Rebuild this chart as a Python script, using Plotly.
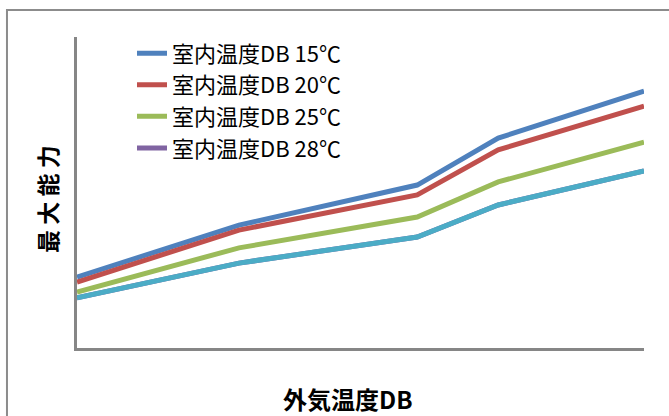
import plotly.graph_objects as go

# Outdoor dry-bulb temperature (°C) sample points
outdoor_temp = [-15, -5, 6, 11, 20]

# Maximum capacity (relative units) per indoor dry-bulb temperature
series_names = ["室内温度DB 15℃", "室内温度DB 20℃", "室内温度DB 25℃", "室内温度DB 28℃"]
cap_15 = [22.8, 39.5, 52.4, 67.5, 82.6]
cap_20 = [21.2, 37.9, 49.2, 63.7, 77.8]
cap_25 = [18.0, 32.2, 42.1, 53.4, 66.2]
cap_28 = [16.1, 27.3, 35.7, 46.0, 56.9]

colors = ["#4F81BD", "#C0504D", "#9BBB59", "#8064A2"]
overlay_color = "#4BACC6"

font_family = "Noto Sans CJK JP, Noto Sans, sans-serif"

fig = go.Figure()
for i, (name, vals) in enumerate(zip(series_names, [cap_15, cap_20, cap_25, cap_28])):
    fig.add_trace(go.Scatter(
        x=outdoor_temp, y=vals, mode="lines", name=name,
        legendgroup=f"g{i}",
        line=dict(color=colors[i], width=5),
    ))

# Fifth series sitting on top of the 28℃ curve, not listed in the legend
fig.add_trace(go.Scatter(
    x=outdoor_temp, y=cap_28, mode="lines", showlegend=False,
    line=dict(color=overlay_color, width=5),
))

fig.update_layout(
    width=669, height=416,
    margin=dict(l=77, r=25, t=37, b=68),
    paper_bgcolor="white", plot_bgcolor="white",
    font=dict(family=font_family, color="black"),
    showlegend=True,
    legend=dict(
        x=0.097, y=1.015, xanchor="left", yanchor="top",
        font=dict(size=22, family=font_family),
        bgcolor="rgba(0,0,0,0)",
        tracegroupgap=0,
    ),
    xaxis=dict(
        range=[-15, 20], showgrid=False, zeroline=False,
        showticklabels=False, ticks="",
        showline=True, linecolor="#868686", linewidth=3,
    ),
    yaxis=dict(
        range=[0, 100], showgrid=False, zeroline=False,
        showticklabels=False, ticks="",
        showline=True, linecolor="#868686", linewidth=3,
    ),
    shapes=[dict(
        type="rect", xref="paper", yref="paper",
        x0=-0.1235, y0=-0.4, x1=1.3, y1=1.087,
        line=dict(color="#8C8C8C", width=2), fillcolor="rgba(0,0,0,0)",
        layer="below",
    )],
    annotations=[
        dict(text="<b>外気温度DB</b>", xref="paper", yref="paper",
             x=(347 - 77) / 567, y=-(398 - 348) / 311,
             xanchor="center", yanchor="middle", showarrow=False,
             font=dict(size=24, family=font_family)),
        dict(text="<b>最 大 能 力</b>", xref="paper", yref="paper",
             x=-(77 - 47) / 567, y=(348 - 199) / 311,
             xanchor="center", yanchor="middle", showarrow=False,
             textangle=-90,
             font=dict(size=23, family=font_family)),
    ],
)

fig.write_html("out.html")
